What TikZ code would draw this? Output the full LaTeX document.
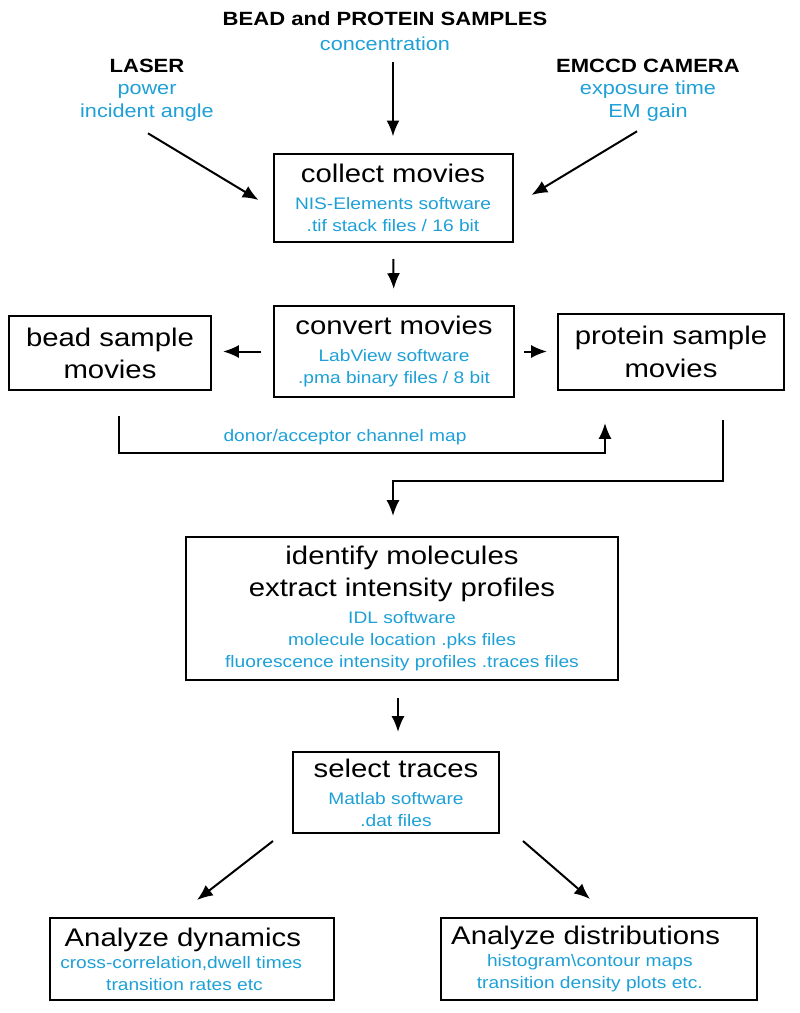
\documentclass[tikz,border=0pt]{standalone}
\usepackage{fontspec}
\setmainfont{Liberation Sans}[FakeStretch=1.15]
\usepackage{xcolor}
\usetikzlibrary{positioning,arrows.meta}
\definecolor{infoblue}{RGB}{30,160,215}
\newcommand{\stagefont}{\fontsize{15.3}{19.2}\selectfont}
\newcommand{\infofont}{\fontsize{10}{13.2}\selectfont}
\newcommand{\sourcefont}{\fontsize{11.3}{13.6}\selectfont}
\newcommand{\headfont}{\fontsize{11.5}{14}\selectfont\bfseries}
\newcommand{\info}[1]{{\infofont\color{infoblue}#1}}
\newcommand{\head}[1]{{\headfont\color{black}#1}}

\begin{document}
\begin{tikzpicture}
                [x=0.6pt, y=-0.6pt,
                box/.style={draw,line width=1.2pt,align=center,font=\stagefont,inner sep=0pt},
                source/.style={align=center,font=\sourcefont,text=infoblue,inner sep=1pt},
                arrow/.style={-{Latex[length=9.5pt,width=7.8pt]},line width=1.2pt}
                ]
            \useasboundingbox (0,0) rectangle (800,1013);
            % inputs
            \node[source] (samples) at (385,31) {\head{BEAD and PROTEIN SAMPLES}\\[1pt] concentration};
            \node[source] (laser) at (147,90) {\head{LASER}\\ power\\ incident angle};
            \node[source] (camera) at (648,90) {\head{EMCCD CAMERA}\\ exposure time\\ EM gain};
            % stages
            \node[box,minimum width=143.4pt,minimum height=52.8pt] (collect) at (393,198)
                {collect movies\\[-3pt] \info{NIS-Elements software}\\[-6pt] \info{.tif stack files / 16 bit}};
            \node[box,minimum width=144pt,minimum height=54.6pt] (convert) at (394,351.5)
                {convert movies\\[-3pt] \info{LabView software}\\[-6pt] \info{.pma binary files / 8 bit}};
            \node[box,minimum width=121.2pt,minimum height=44.4pt] (bead) at (110,353) {bead sample\\ movies};
            \node[box,minimum width=135.6pt,minimum height=45.6pt] (protein) at (671,352) {protein sample\\[1pt] movies};
            \node[source,font=\infofont] (channelmap) at (345,437) {donor/acceptor channel map};
            \node[box,minimum width=259.2pt,minimum height=85.8pt] (identify) at (402,608.5)
                {identify molecules\\ extract intensity profiles\\[-2.5pt] \info{IDL software}\\[-6pt]
                 \info{molecule location .pks files}\\[-6pt] \info{fluorescence intensity profiles .traces files}};
            \node[box,minimum width=123.6pt,minimum height=48.6pt] (select) at (396,792.5)
                {select traces\\[-3pt] \info{Matlab software}\\[-6pt] \info{.dat files}};
            \node[box,minimum width=170.4pt,minimum height=49.2pt] (dynamics) at (192,959)
                {Analyze dynamics\hspace*{11pt}\\[-6pt] \info{cross-correlation,dwell times\hspace*{13pt}}\\[-6pt]
                 \info{transition rates etc\hspace*{9pt}}};
            \node[box,minimum width=189.6pt,minimum height=49.2pt] (distributions) at (599,959)
                {Analyze distributions\hspace*{16pt}\\[-6pt] \info{histogram\textbackslash contour maps\hspace*{11pt}}\\[-6pt]
                 \info{transition density plots etc.\hspace*{11pt}}};
            % connectors
            \draw[arrow,shorten <=6pt,shorten >=10pt] (samples.south -| collect.north) -- (collect.north);
            \draw[arrow] ([shift={(1,10)}]laser.south) -- ([shift={(-14,2)}]collect.west);
            \draw[arrow] ([shift={(-11,8)}]camera.south) -- ([shift={(18,-3)}]collect.east);
            \draw[arrow,shorten <=9.6pt,shorten >=9.6pt] (collect.south) -- (convert.north);
            \draw[arrow,shorten <=7.2pt,shorten >=6.6pt] (convert.west) -- (convert.west -| bead.east);
            \draw[arrow,shorten <=5.4pt,shorten >=6pt] (convert.east) -- (convert.east -| protein.west);
            \draw[arrow] ([shift={(9,25)}]bead.south) -- ++(0,37) -| ([shift={(-66,32)}]protein.south);
            \draw[arrow] ([shift={(52,29)}]protein.south) -- ++(0,61) -| ([shift={(-9,-20)}]identify.north);
            \draw[arrow] ([shift={(-4,17)}]identify.south) -- ([shift={(2,-19)}]select.north);
            \draw[arrow] ([shift={(-19,7)}]select.south west) -- ([shift={(5,-17)}]dynamics.north);
            \draw[arrow] ([shift={(23,7)}]select.south east) -- ([shift={(-9,-18)}]distributions.north);
\end{tikzpicture}
\end{document}
